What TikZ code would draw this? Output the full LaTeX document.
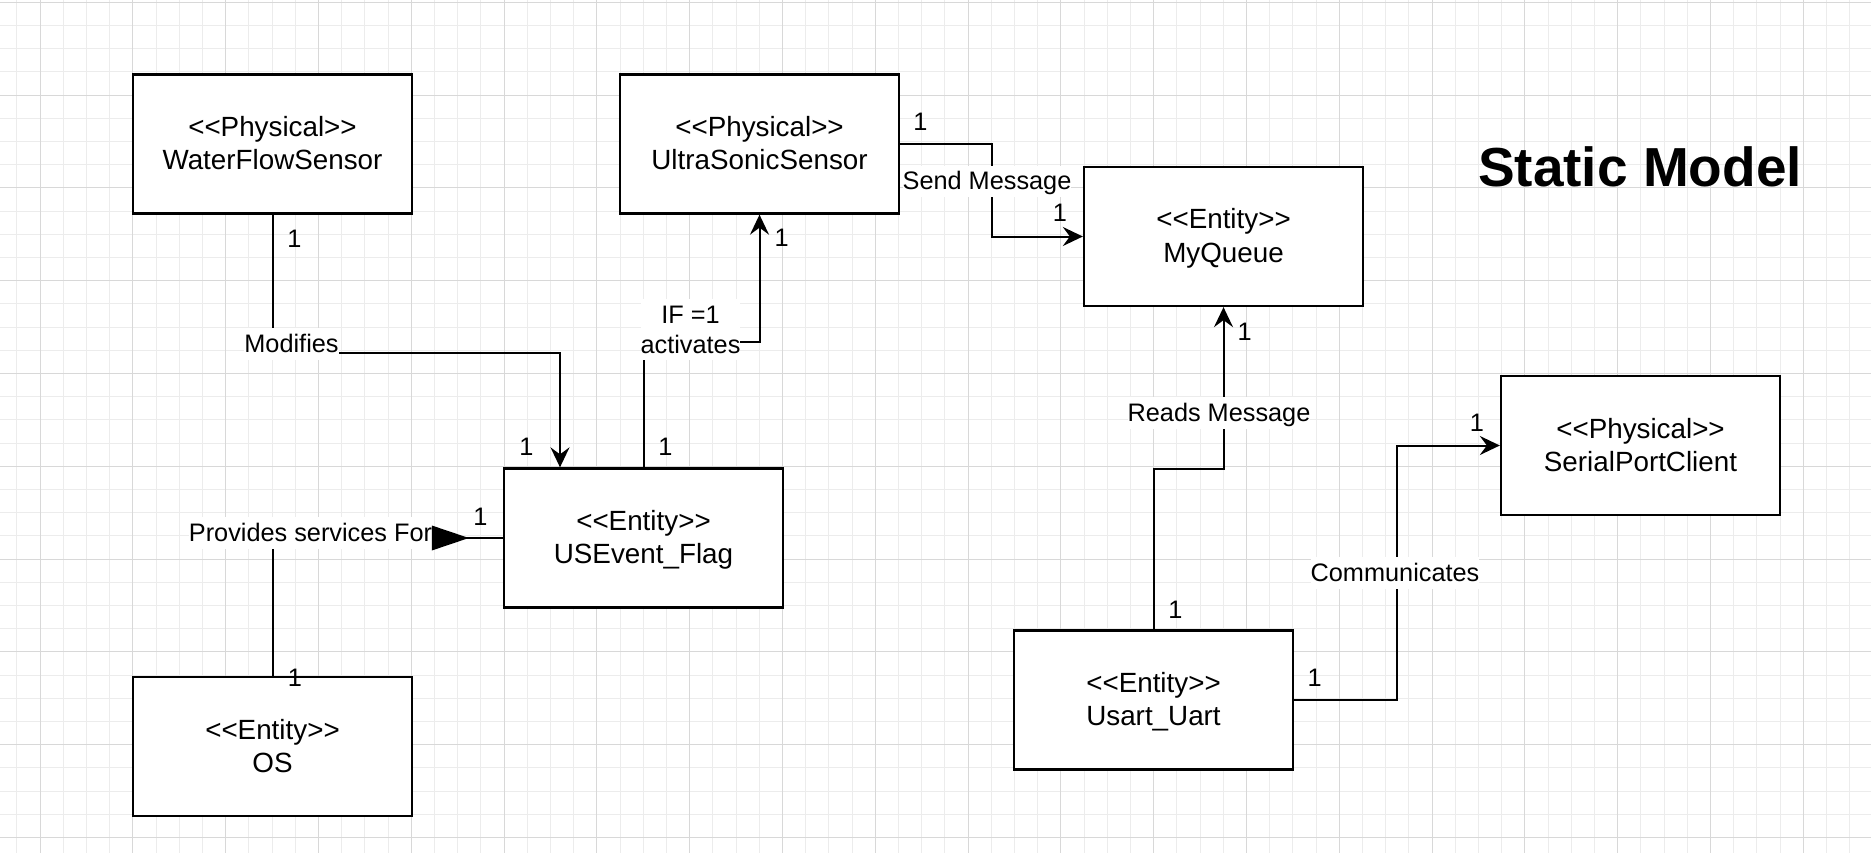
\documentclass[tikz,border=0pt]{standalone}
\usepackage{fontspec}
\setmainfont{Liberation Sans}
\usetikzlibrary{arrows.meta}
\definecolor{gridminor}{RGB}{236,236,236}
\definecolor{gridmajor}{RGB}{216,216,216}
\newcommand\bstrut{\rule[-5.3pt]{0pt}{29.3pt}}
\newcommand\lstrut{\rule[-5.4pt]{0pt}{28.3pt}}
\newcommand\ltg{<\kern0pt<}
\newcommand\gtg{>\kern0pt>}
\begin{document}
\begin{tikzpicture}[x=1pt,y=-1pt,
  umlbox/.style={draw, line width=2.3pt, fill=white, rectangle, minimum width=279pt,
    minimum height=139pt, inner sep=0pt, align=center,
    font=\fontsize{27.8}{33.3}\selectfont},
  conn/.style={line width=2pt},
  arrowend/.style={-{Stealth[length=20pt,width=19pt,inset=7pt]}},
  lbl/.style={fill=white, inner xsep=0pt, inner ysep=1.5pt,
    font=\fontsize{25.3}{30}\selectfont},
  mult/.style={inner sep=0pt, anchor=base, font=\fontsize{25.3}{30}\selectfont},
]
\useasboundingbox (0,0) rectangle (1871,853);
\fill[white] (0,0) rectangle (1871,853);
% grid
\foreach \i in {0,...,81}
  \draw[gridminor, line width=1pt] ({-6.4+\i*23.2},0) -- ({-6.4+\i*23.2},853);
\foreach \i in {0,...,37}
  \draw[gridminor, line width=1pt] (0,{2.3+\i*23.2}) -- (1871,{2.3+\i*23.2});
\foreach \i in {0,...,19}
  \draw[gridmajor, line width=1pt] ({40+\i*92.8},0) -- ({40+\i*92.8},853);
\foreach \i in {0,...,9}
  \draw[gridmajor, line width=1pt] (0,{2.3+\i*92.8}) -- (1871,{2.3+\i*92.8});

% boxes
\node[umlbox] (wfs) at (272.5,144) {\bstrut\ltg Physical\gtg\\\bstrut WaterFlowSensor};
\node[umlbox] (uss) at (759.5,144) {\bstrut\ltg Physical\gtg\\\bstrut UltraSonicSensor};
\node[umlbox] (mq) at (1223.5,236.5) {\bstrut\ltg Entity\gtg\\\bstrut MyQueue};
\node[umlbox] (spc) at (1640.5,445.5) {\bstrut\ltg Physical\gtg\\\bstrut SerialPortClient};
\node[umlbox] (usef) at (643.5,538) {\bstrut\ltg Entity\gtg\\\bstrut USEvent\_Flag};
\node[umlbox] (os) at (272.5,746.5) {\bstrut\ltg Entity\gtg\\\bstrut OS};
\node[umlbox] (usart) at (1153.5,700) {\bstrut\ltg Entity\gtg\\\bstrut Usart\_Uart};

% bend coordinates
\coordinate (cModY) at (0,352.7);
\coordinate (cModX) at (560,0);
\coordinate (cActY) at (0,341.7);
\coordinate (cSendX) at (991.7,0);
\coordinate (cReadY) at (0,469);
\coordinate (cComX) at (1397,0);

% connectors
\draw[conn,arrowend] (wfs.south) -- (wfs.south |- cModY) -| (usef.north -| cModX);
\draw[conn,arrowend] (usef.north) -- (usef.north |- cActY) -| (uss.south);
\draw[conn,arrowend] (uss.east) -| (mq.west -| cSendX) -- (mq.west);
\draw[conn,arrowend] (usart.north) -- (usart.north |- cReadY) -| (mq.south);
\draw[conn,arrowend] (usart.east) -| (spc.west -| cComX) -- (spc.west);
\draw[conn] (os.north) |- (usef.west);

% connector labels
\node[lbl, anchor=base] (lModifies) at (291.5,352.7) {\lstrut Modifies};
\node[lbl, align=center] (lAct) at (690.5,329.5) {\lstrut IF =1\\\lstrut activates};
\node[lbl, anchor=base] (lSend) at (987,190) {\lstrut Send Message};
\node[lbl, anchor=base] (lRead) at (1219,421.7) {\lstrut Reads Message};
\node[lbl, anchor=base] (lCom) at (1395,581.7) {\lstrut Communicates};
\node[lbl, anchor=base] (lProv) at (310.5,541.6) {\lstrut Provides services For};

% filled triangle on the "Provides services For" connector
\fill ([xshift=-71pt,yshift=12.5pt]usef.west) -- ([xshift=-71pt,yshift=-12.5pt]usef.west)
  -- ([xshift=-34pt]usef.west) -- cycle;

% multiplicities
\node[mult] (m1) at (294.3,247.3) {1};
\node[mult] (m2) at (526.3,455) {1};
\node[mult] (m3) at (480.3,525) {1};
\node[mult] (m4) at (295,686.7) {1};
\node[mult] (m5) at (665.3,455) {1};
\node[mult] (m6) at (781.7,246.7) {1};
\node[mult] (m7) at (920.3,130.7) {1};
\node[mult] (m8) at (1060,222) {1};
\node[mult] (m9) at (1244.7,340) {1};
\node[mult] (m10) at (1477,431.7) {1};
\node[mult] (m11) at (1175.3,618.3) {1};
\node[mult] (m12) at (1314.7,686.7) {1};

% title
\node[anchor=base, font=\bfseries\fontsize{55}{66}\selectfont] (title) at (1640,187) {Static Model};
\end{tikzpicture}
\end{document}
